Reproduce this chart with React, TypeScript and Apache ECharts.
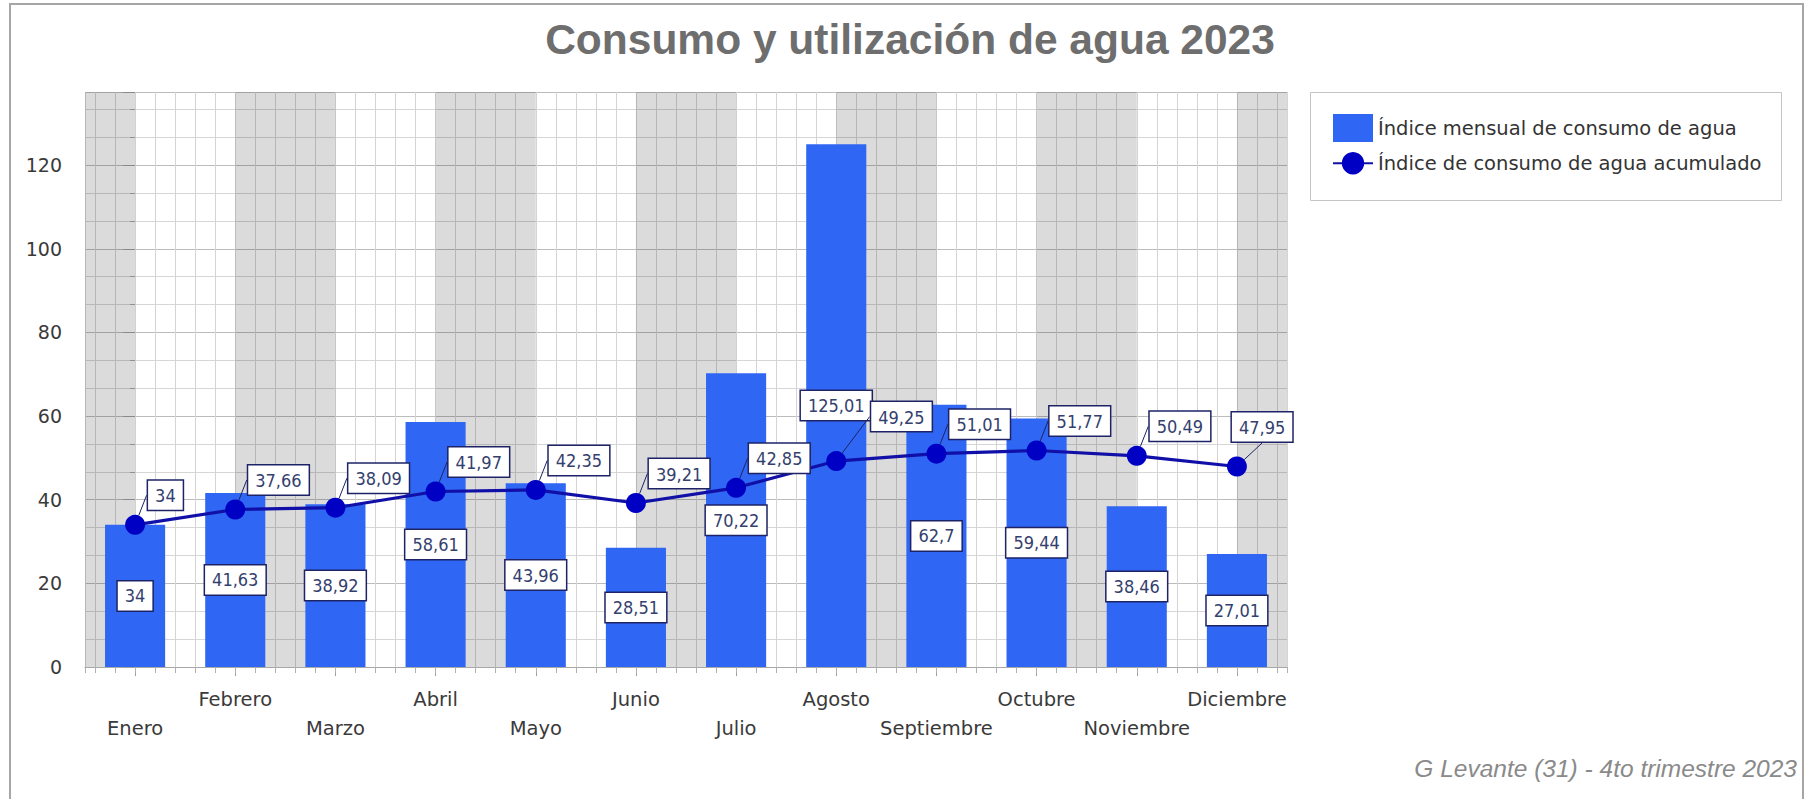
import React, { useEffect, useRef } from 'react';
import * as echarts from 'echarts';

const categories = ['Enero', 'Febrero', 'Marzo', 'Abril', 'Mayo', 'Junio', 'Julio', 'Agosto', 'Septiembre', 'Octubre', 'Noviembre', 'Diciembre'];
const monthlyIndex = [34, 41.63, 38.92, 58.61, 43.96, 28.51, 70.22, 125.01, 62.7, 59.44, 38.46, 27.01];
const cumulativeIndex = [34, 37.66, 38.09, 41.97, 42.35, 39.21, 42.85, 49.25, 51.01, 51.77, 50.49, 47.95];
const seriesNames = ['Índice mensual de consumo de agua', 'Índice de consumo de agua acumulado'];
const titleText = 'Consumo y utilización de agua 2023';
const footerText = 'G Levante (31) - 4to trimestre 2023';
const yMin = 0;
const yMax = 137.5;
const yInterval = 20;

const FONT_COND = '"DejaVu Sans Condensed", "Noto Sans", sans-serif';
const FONT = '"DejaVu Sans", Verdana, sans-serif';
const fmt = (v: number) => String(v).replace('.', ',');

// label placement tweaks for the cumulative line (offset of the label's bottom-left corner from the point)
const defaultLabelOffset = [13, -15];
const labelOffsetOverrides: Record<number, number[]> = { 7: [35, -30], 11: [-5, -25] };

export default function App() {
  const ref = useRef<HTMLDivElement>(null);
  useEffect(() => {
    if (!ref.current) return;
    const chart = echarts.init(ref.current, undefined, { renderer: 'svg' });

    const n = categories.length;
    const bands: any[] = [[{ xAxis: -0.5 }, { xAxis: 0 }]];
    for (let i = 1; i < n; i += 2) {
      bands.push([{ xAxis: i }, { xAxis: Math.min(i + 1, n - 0.5) }]);
    }

    const boxLabel = {
      show: true,
      fontFamily: FONT_COND,
      fontSize: 18,
      lineHeight: 20,
      color: '#34406e',
      backgroundColor: '#ffffff',
      borderColor: '#1d2366',
      borderWidth: 1.5,
      padding: [5, 7, 4, 7],
      formatter: (p: any) => fmt(p.value),
    };

    chart.setOption({
      animation: false,
      backgroundColor: '#ffffff',
      title: {
        text: titleText,
        left: 910,
        top: 18,
        textAlign: 'center',
        padding: 0,
        textStyle: { fontFamily: '"Liberation Sans", Arial, sans-serif', fontWeight: 'bold', fontSize: 42.5, color: '#6e6e6e' },
      },
      legend: {
        data: [
          { name: seriesNames[0], icon: 'rect' },
          { name: seriesNames[1] },
        ],
        orient: 'vertical',
        left: 1310,
        top: 92,
        padding: [22, 27, 20, 22],
        itemWidth: 40,
        itemHeight: 28,
        itemGap: 10,
        textStyle: { fontFamily: FONT, fontSize: 19.5, color: '#333333' },
      },
      grid: { left: 85, right: 519, top: 92, bottom: 132 },
      xAxis: [
        {
          type: 'category',
          data: categories,
          boundaryGap: true,
          axisLine: { show: true, lineStyle: { color: '#a8a8a8', width: 1 } },
          axisTick: { show: true, alignWithLabel: true, length: 9, lineStyle: { color: '#a0a0a0' } },
          splitLine: { show: false },
          axisLabel: {
            interval: 0,
            margin: 18,
            fontFamily: FONT,
            fontSize: 19.5,
            lineHeight: 29,
            color: '#3a3a3a',
            formatter: (v: string, i: number) => (i % 2 === 0 ? '\n' + v : v),
          },
        },
        {
          type: 'value',
          position: 'bottom',
          min: -0.5,
          max: n - 0.5,
          splitNumber: 60,
          minInterval: 0.2,
          maxInterval: 0.2,
          axisLine: { show: false },
          axisLabel: { show: false },
          axisTick: { show: true, length: 6, lineStyle: { color: '#b0b0b0' } },
          splitLine: { show: true, lineStyle: { color: '#d4d4d4', width: 1 } },
        },
      ],
      yAxis: {
        type: 'value',
        min: yMin,
        max: yMax,
        interval: yInterval,
        axisLine: { show: false },
        axisTick: { show: true, length: 12, lineStyle: { color: '#a0a0a0' } },
        minorTick: { show: true, splitNumber: 3, length: 5, lineStyle: { color: '#a8a8a8' } },
        axisLabel: { showMaxLabel: false, margin: 23, fontFamily: FONT, fontSize: 19, color: '#3a3a3a' },
        splitLine: { show: true, lineStyle: { color: '#bcbcbc', width: 1 } },
        minorSplitLine: { show: true, lineStyle: { color: '#d6d6d6', width: 1 } },
      },
      series: [
        {
          type: 'line',
          name: '__bands',
          xAxisIndex: 1,
          data: [],
          silent: true,
          markArea: {
            silent: true,
            itemStyle: { color: 'rgba(0,0,0,0.14)' },
            data: bands,
          },
        },
        {
          type: 'bar',
          name: seriesNames[0],
          data: monthlyIndex,
          barWidth: '60%',
          itemStyle: { color: '#2f66f3' },
          z: 3,
          label: { ...boxLabel, position: 'inside' },
        },
        {
          type: 'line',
          name: seriesNames[1],
          data: cumulativeIndex,
          symbol: 'circle',
          symbolSize: 20,
          z: 4,
          lineStyle: { width: 3.2, color: '#1010a8' },
          itemStyle: { color: '#0000c4' },
          label: { ...boxLabel, position: 'top' },
          labelLine: { show: true, lineStyle: { color: '#1d2366', width: 1 } },
          labelLayout: (params: any) => {
            const off = labelOffsetOverrides[params.dataIndex] || defaultLabelOffset;
            const cx = params.rect.x + params.rect.width / 2;
            const cy = params.rect.y + params.rect.height / 2;
            return { x: cx + off[0], y: cy + off[1], align: 'left', verticalAlign: 'bottom' };
          },
        },
      ],
      graphic: [
        {
          type: 'rect',
          silent: true,
          z: -10,
          shape: { x: 10, y: 4, width: 1793, height: 812 },
          style: { fill: 'none', stroke: '#a6a6a6', lineWidth: 2 },
        },
        {
          type: 'rect',
          silent: true,
          shape: { x: 1310.5, y: 92.5, width: 471, height: 108 },
          style: { fill: 'none', stroke: '#c4c4c4', lineWidth: 1 },
        },
        {
          type: 'text',
          silent: true,
          x: 1797,
          y: 768,
          style: {
            text: footerText,
            align: 'right',
            verticalAlign: 'middle',
            font: 'italic 24.5px "Liberation Sans", Arial, sans-serif',
            fill: '#8a8a8a',
          },
        },
      ],
    });
    return () => chart.dispose();
  }, []);
  return <div ref={ref} style={{ position: 'fixed', left: 0, top: 0, width: 1806, height: 799 }} />;
}
